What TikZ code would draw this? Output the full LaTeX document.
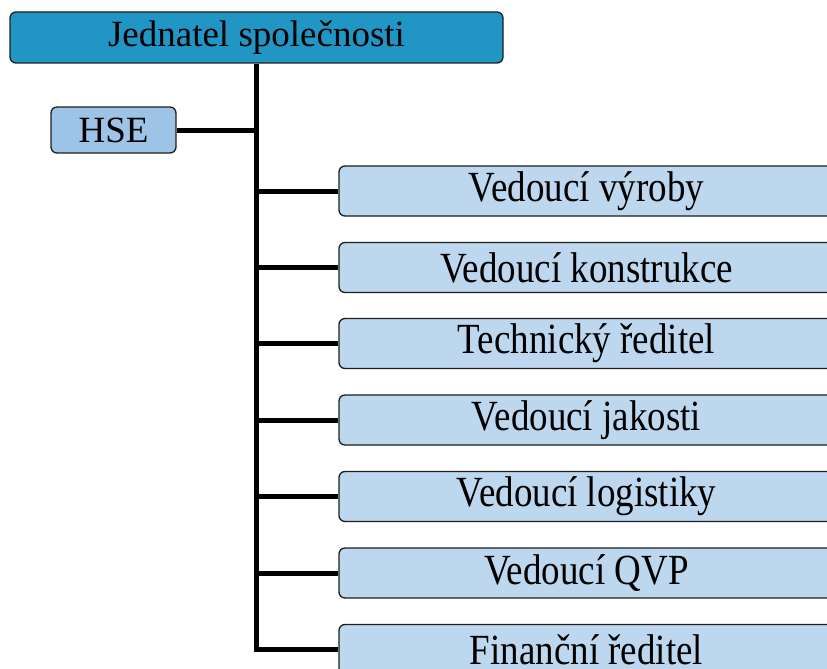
\documentclass[tikz,border=0pt]{standalone}
\usepackage{fontspec}
\setmainfont{Liberation Serif}
\definecolor{topblue}{RGB}{33,150,196}
\definecolor{hseblue}{RGB}{157,195,230}
\definecolor{childblue}{RGB}{189,215,238}
\definecolor{edge}{RGB}{30,30,30}
\begin{document}
\begin{tikzpicture}[x=1pt,y=-1pt,
  box/.style={draw=edge,line width=1.3pt,rounded corners=6pt,inner sep=0pt},
  topbox/.style={box,fill=topblue,minimum width=493pt,minimum height=51pt,font=\fontsize{37}{40}\selectfont},
  hsebox/.style={box,fill=hseblue,minimum width=125pt,minimum height=46pt,font=\fontsize{37}{40}\selectfont},
  childbox/.style={box,fill=childblue,minimum width=495pt,minimum height=50pt},
  conn/.style={line width=5pt,black,line join=miter}]
\useasboundingbox (0,0) rectangle (827,669);
\newcommand{\ctext}[1]{\scalebox{0.86}[1]{\fontsize{43}{46}\selectfont #1}}
\node[topbox] (top) at (256.5,37.5) {Jednatel společnosti};
\node[hsebox] (hse) at (113.5,130) {HSE};
\node[childbox] (c1) at (586.5,191) {\ctext{Vedoucí výroby}};
\node[childbox] (c2) at (586.5,267.5) {\ctext{Vedoucí konstrukce}};
\node[childbox] (c3) at (586.5,343.5) {\ctext{Technický ředitel}};
\node[childbox] (c4) at (586.5,420) {\ctext{Vedoucí jakosti}};
\node[childbox] (c5) at (586.5,496.5) {\ctext{Vedoucí logistiky}};
\node[childbox] (c6) at (586.5,573) {\ctext{Vedoucí QVP}};
\node[childbox] (c7) at (586.5,649.5) {\ctext{Finanční ředitel}};
\begin{scope}[on background layer/.try]
\end{scope}
\draw[conn] (top.south) |- (c7.west);
\draw[conn] (hse.east) -- (hse.east -| top.south);
\foreach \c in {c1,c2,c3,c4,c5,c6}
  \draw[conn] (\c.west) -- (\c.west -| top.south);
\end{tikzpicture}
\end{document}
